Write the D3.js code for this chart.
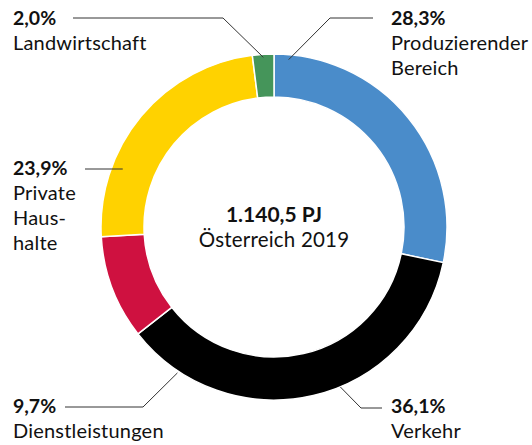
<!DOCTYPE html>
<html lang="de">
<head>
<meta charset="UTF-8">
<title>Energieverbrauch Österreich 2019</title>
<script src="https://d3js.org/d3.v7.min.js"></script>
<style>
  body { margin: 0; padding: 0; background: #fff; }
  #chart { width: 532px; height: 445px; }
  text { font-family: Lato, "Open Sans", sans-serif; fill: #111; }
  .pct { font-weight: 700; font-size: 19.5px; }
  .lbl { font-size: 20px; letter-spacing: 0.2px; }
  .leader { fill: none; stroke: #333; stroke-width: 1; }
</style>
</head>
<body>
<div id="chart"></div>
<script>
  // sectors, clockwise from 12 o'clock
  const sectors = ["Produzierender Bereich", "Verkehr", "Dienstleistungen", "Private Haushalte", "Landwirtschaft"];
  const shares = [28.3, 36.1, 9.7, 23.9, 2.0];
  const colors = ["#4a8cca", "#000000", "#cf1140", "#ffd200", "#45955a"];
  const labelLines = [
    ["28,3%", "Produzierender", "Bereich"],
    ["36,1%", "Verkehr"],
    ["9,7%", "Dienstleistungen"],
    ["23,9%", "Private", "Haus-", "halte"],
    ["2,0%", "Landwirtschaft"]
  ];
  const total = ["1.140,5 PJ", "Österreich 2019"];

  const width = 532, height = 445;
  const cx = 274, cy = 227, rOuter = 173, rInner = 130;

  // label placement: text anchor point, elbow point, angle (deg) where the leader touches the ring
  const layout = [
    { x: 391, y: 25, line: [[373, 18], [330, 18]], angle: 5, r: 168 },
    { x: 391, y: 413, line: [[382, 408], [361, 408]], angle: 157.5, r: 173 },
    { x: 13, y: 413, line: [[65, 407], [143, 407]], angle: 213.5, r: 175 },
    { x: 13, y: 175, line: [[85, 169]], angle: 291, r: 162 },
    { x: 13, y: 25, line: [[73, 18], [223, 18]], angle: -3.6, r: 170 }
  ];

  const svg = d3.select("#chart").append("svg")
      .attr("width", width).attr("height", height);

  const g = svg.append("g").attr("transform", `translate(${cx},${cy})`);

  const pie = d3.pie().sort(null).value(d => d);
  const arc = d3.arc().innerRadius(rInner).outerRadius(rOuter);

  g.selectAll("path.slice")
    .data(pie(shares))
    .enter()
    .append("path")
      .attr("class", "slice")
      .attr("d", arc)
      .attr("fill", (d, i) => colors[i])
      .attr("stroke", "#fff")
      .attr("stroke-width", 1.5);

  // leader lines
  layout.forEach(l => {
    const a = l.angle * Math.PI / 180;
    const end = [cx + l.r * Math.sin(a), cy - l.r * Math.cos(a)];
    const pts = l.line.concat([end]);
    if (l.line.length === 1) pts[1] = [end[0], l.line[0][1]];
    svg.append("path")
      .attr("class", "leader")
      .attr("d", d3.line()(pts));
  });

  // labels
  labelLines.forEach((lines, i) => {
    const t = svg.append("text").attr("x", layout[i].x).attr("y", layout[i].y);
    lines.forEach((s, j) => {
      t.append("tspan")
        .attr("class", j === 0 ? "pct" : "lbl")
        .attr("x", layout[i].x)
        .attr("dy", j === 0 ? 0 : 25)
        .text(s);
    });
  });

  // centre text
  svg.append("text")
    .attr("x", cx).attr("y", 222)
    .attr("text-anchor", "middle")
    .attr("class", "pct")
    .style("font-size", "21px")
    .text(total[0]);
  svg.append("text")
    .attr("x", cx).attr("y", 247)
    .attr("text-anchor", "middle")
    .attr("class", "lbl")
    .style("font-size", "20.5px")
    .text(total[1]);
</script>
</body>
</html>
